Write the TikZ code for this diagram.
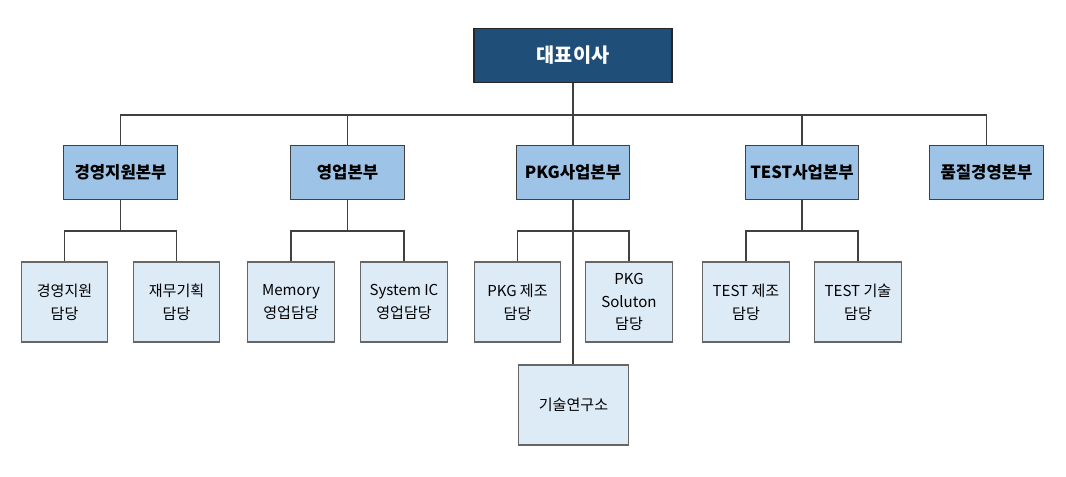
\documentclass[tikz,border=0pt]{standalone}
\usepackage{fontspec}
\setmainfont{Noto Sans CJK KR}
\usepackage{tikz}
\definecolor{ceoblue}{HTML}{1F4E79}
\definecolor{deptblue}{HTML}{9DC3E6}
\definecolor{teamblue}{HTML}{DDEBF7}
\definecolor{wire}{HTML}{404040}
\tikzset{
	ceo/.style={rectangle,draw=black!85,fill=ceoblue,text=white,font=\fontsize{14.8}{17}\selectfont\bfseries,minimum width=148.5pt,minimum height=41pt,line width=0.9pt},
	dept/.style={rectangle,draw=black!75,fill=deptblue,font=\fontsize{12.5}{15}\selectfont\bfseries,minimum width=85pt,minimum height=40pt,line width=0.8pt},
	team/.style={rectangle,draw=black!60,fill=teamblue,font=\fontsize{11.3}{17}\selectfont,align=center,minimum width=65pt,minimum height=60pt,line width=0.8pt},
	wire/.style={draw=wire,line width=0.8pt}
}
\begin{document}
\begin{tikzpicture}[x=0.75pt,y=-0.75pt]
	\useasboundingbox (0,0) rectangle (1066,476);

	\node [ceo] (ceo) at (573,55.5) {대표이사};

	\node [dept] (gy) at (120.5,172.5) {경영지원본부};
	\node [dept] (yu) at (347.5,172.5) {영업본부};
	\node [dept] (pkg) at (573,172.5) {PKG사업본부};
	\node [dept] (test) at (802,172.5) {TEST사업본부};
	\node [dept] (qm) at (986.5,172.5) {품질경영본부};

	\node [team] (gy1) at (64.5,302) {경영지원\\담당};
	\node [team] (gy2) at (176.5,302) {재무기획\\담당};
	\node [team] (yu1) at (291,302) {Memory\\영업담당};
	\node [team] (yu2) at (404,302) {System IC\\영업담당};
	\node [team] (pkg1) at (517.5,302) {PKG 제조\\담당};
	\node [team] (pkg2) at (629,302) {PKG\\Soluton\\담당};
	\node [team] (test1) at (746,302) {TEST 제조\\담당};
	\node [team] (test2) at (858,302) {TEST 기술\\담당};
	\node [team,minimum width=83pt] (lab) at (573.5,405) {기술연구소};

	\coordinate (topBus) at (573,115);
	\coordinate (gyBus) at (120.5,231);
	\coordinate (yuBus) at (347.5,231);
	\coordinate (pkgBus) at (573,231);
	\coordinate (testBus) at (802,231);

	\draw [wire] (ceo.south) -- (topBus);
	\draw [wire] (gy.north) |- (topBus) -| (qm.north);
	\draw [wire] (yu.north) |- (topBus);
	\draw [wire] (pkg.north) -- (topBus);
	\draw [wire] (test.north) |- (topBus);

	\draw [wire] (gy.south) -- (gyBus);
	\draw [wire] (gy1.north) |- (gyBus) -| (gy2.north);
	\draw [wire] (yu.south) -- (yuBus);
	\draw [wire] (yu1.north) |- (yuBus) -| (yu2.north);
	\draw [wire] (pkg.south) -- (lab.north -| pkg.south);
	\draw [wire] (pkg1.north) |- (pkgBus) -| (pkg2.north);
	\draw [wire] (test.south) -- (testBus);
	\draw [wire] (test1.north) |- (testBus) -| (test2.north);
\end{tikzpicture}
\end{document}
